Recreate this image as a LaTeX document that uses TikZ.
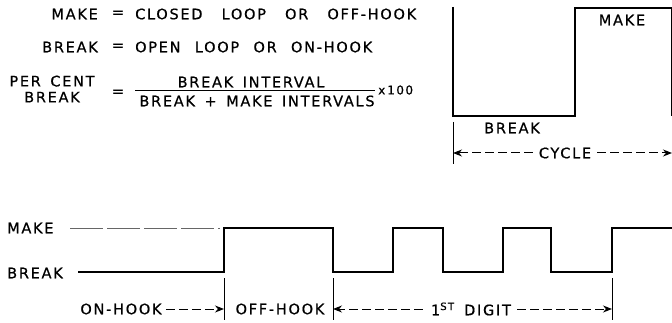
\documentclass[tikz,border=0pt]{standalone}
\usepackage{fontspec}
\setmainfont{DejaVu Sans}[LetterSpace=12,WordSpace=1.5,FakeBold=0.6]
\usetikzlibrary{arrows.meta}

\begin{document}
\begin{tikzpicture}[x=1pt,y=-1pt,
  txt/.style={inner sep=0pt,font=\fontsize{14.5}{17}\selectfont},
  wave/.style={line width=2.6pt,line join=miter},
  tick/.style={line width=0.9pt},
  dim/.style={line width=1pt,dash pattern=on 9pt off 4pt,
    -{Stealth[length=9pt,width=7pt]}}]
\useasboundingbox (0,0) rectangle (672,323);
% definitions
\node [txt,anchor=east] (mkw) at (98,14) {MAKE};
\node [txt] (eq1) at (118,14) {=};
\node [txt,anchor=west] (mkd) at (135,14) {\makebox[281pt][s]{CLOSED LOOP OR OFF-HOOK}};
\node [txt,anchor=east] (brw) at (98,47) {BREAK};
\node [txt] (eq2) at (118,47) {=};
\node [txt,anchor=west] (brd) at (135,47) {\makebox[237pt][s]{OPEN LOOP OR ON-HOOK}};
\node [txt,align=center] (pct) at (52,89) {PER CENT\\[-1pt]BREAK};
\node [txt] (eq3) at (118,93) {=};
\node [txt] (num) at (251,82) {BREAK INTERVAL};
\node [txt] (den) at (257,101) {BREAK + MAKE INTERVALS};
\draw [line width=1pt] (135,91) -- (375,91);
\node [txt,anchor=west,font=\fontsize{12}{14}\selectfont] (hund) at (378,90) {x\,100};
% one cycle
\draw [wave] (453,7) -- (453,116) -- (575,116) -- (575,8) -- (672.5,8) -- (672.5,116);
\node [txt] (cmk) at (622,20) {MAKE};
\node [txt] (cbr) at (512,128) {BREAK};
\node [txt] (cyc) at (565,153) {CYCLE};
\coordinate (c0) at (453,153);
\coordinate (c1) at (672,153);
\draw [tick] (453,122) -- (453,164);
\draw [dim] (cyc.west) ++(-6,0) -- (c0);
\draw [dim] (cyc.east) ++(6,0) -- (c1);
% dialing
\node [txt,anchor=west] (lmk) at (7,228) {MAKE};
\node [txt,anchor=west] (lbr) at (7,273) {BREAK};
\draw [gray!80!black,line width=0.9pt,dash pattern=on 33pt off 4pt] (70,228) -- (220,228);
\draw [wave] (78,272) -- (224,272) -- (224,228) -- (333,228) -- (333,272)
  -- (393,272) -- (393,228) -- (443,228) -- (443,272)
  -- (503,272) -- (503,228) -- (551,228) -- (551,272)
  -- (612,272) -- (612,228) -- (672,228);
\draw [tick] (224,278) -- (224,320);
\draw [tick] (333,278) -- (333,320);
\draw [tick] (612,278) -- (612,320);
\coordinate (t0) at (224,309);
\coordinate (t1) at (333,309);
\coordinate (t2) at (612,309);
\node [txt] (onh) at (121,309) {ON-HOOK};
\node [txt] (offh) at (280,309) {OFF-HOOK};
\node [txt] (dig) at (471,309) {1\textsuperscript{ST} DIGIT};
\draw [dim] (onh.east) ++(4,0) -- (t0);
\draw [dim] (dig.west) ++(-8,0) -- (t1);
\draw [dim] (dig.east) ++(6,0) -- (t2);
\end{tikzpicture}
\end{document}
